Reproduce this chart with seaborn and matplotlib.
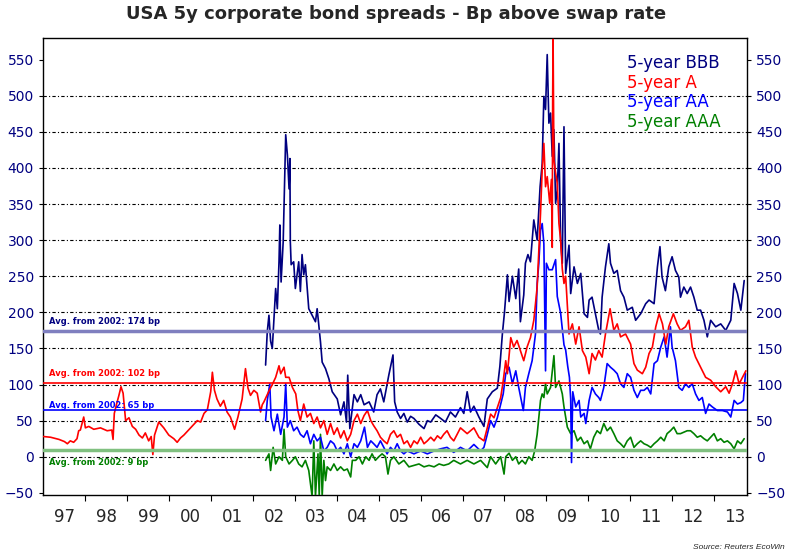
import numpy as np
import pandas as pd
import matplotlib
matplotlib.use('Agg')
import matplotlib.pyplot as plt
import seaborn as sns

# 5-year A (red), from 1997
a_years = [1997.00, 1997.17, 1997.37, 1997.50, 1997.57, 1997.64, 1997.72, 1997.80, 1997.84, 1997.88,
           1997.96, 1998.00, 1998.08, 1998.20, 1998.36, 1998.52, 1998.63, 1998.66, 1998.69, 1998.74,
           1998.80, 1998.85, 1998.90, 1998.96, 1999.04, 1999.12, 1999.20, 1999.28, 1999.36, 1999.43,
           1999.51, 1999.57, 1999.61, 1999.65, 1999.75, 1999.87, 1999.99, 2000.11, 2000.19, 2000.27,
           2000.35, 2000.43, 2000.51, 2000.59, 2000.67, 2000.75, 2000.83, 2000.91, 2000.99, 2001.03,
           2001.08, 2001.14, 2001.22, 2001.30, 2001.38, 2001.46, 2001.56, 2001.64, 2001.74, 2001.82,
           2001.88, 2001.94, 2002.02, 2002.10, 2002.18, 2002.22, 2002.26, 2002.38, 2002.46, 2002.54,
           2002.58, 2002.62, 2002.66, 2002.74, 2002.78, 2002.86, 2002.94, 2003.02, 2003.07, 2003.13,
           2003.21, 2003.29, 2003.37, 2003.45, 2003.53, 2003.61, 2003.69, 2003.77, 2003.85, 2003.93,
           2004.01, 2004.09, 2004.17, 2004.25, 2004.33, 2004.41, 2004.49, 2004.57, 2004.65, 2004.73,
           2004.81, 2004.88, 2004.96, 2005.04, 2005.12, 2005.20, 2005.28, 2005.36, 2005.44, 2005.52,
           2005.60, 2005.68, 2005.76, 2005.84, 2005.92, 2006.00, 2006.08, 2006.16, 2006.24, 2006.32,
           2006.40, 2006.48, 2006.55, 2006.63, 2006.71, 2006.79, 2006.95, 2007.11, 2007.27, 2007.39,
           2007.51, 2007.59, 2007.67, 2007.75, 2007.83, 2007.91, 2007.97, 2008.03, 2008.07, 2008.15,
           2008.22, 2008.30, 2008.38, 2008.46, 2008.54, 2008.62, 2008.70, 2008.78, 2008.86, 2008.90,
           2008.94, 2008.98, 2009.02, 2009.08, 2009.12, 2009.14, 2009.15, 2009.16, 2009.18, 2009.22,
           2009.26, 2009.30, 2009.34, 2009.38, 2009.42, 2009.46, 2009.50, 2009.54, 2009.62, 2009.70,
           2009.78, 2009.86, 2009.94, 2010.02, 2010.09, 2010.17, 2010.25, 2010.33, 2010.41, 2010.52,
           2010.61, 2010.69, 2010.77, 2010.89, 2011.01, 2011.09, 2011.17, 2011.29, 2011.37, 2011.45,
           2011.53, 2011.61, 2011.69, 2011.77, 2011.85, 2011.92, 2012.03, 2012.12, 2012.20, 2012.32,
           2012.40, 2012.48, 2012.56, 2012.68, 2012.80, 2012.92, 2013.04, 2013.16, 2013.28, 2013.36,
           2013.44, 2013.52, 2013.60, 2013.68, 2013.76]
a_bp = [28, 27, 24, 21, 18, 22, 20, 25, 36, 37,
        55, 40, 42, 38, 40, 36, 37, 24, 60, 72,
        85, 97, 88, 50, 54, 42, 38, 30, 26, 33,
        22, 28, 3, 30, 48, 40, 30, 25, 20, 26,
        30, 35, 40, 45, 50, 48, 60, 65, 90, 117,
        92, 80, 70, 78, 62, 55, 38, 55, 80, 122,
        95, 85, 92, 88, 62, 72, 76, 91, 100, 110,
        118, 126, 115, 124, 110, 110, 96, 87, 64, 50,
        73, 55, 60, 46, 55, 40, 50, 31, 46, 31,
        40, 26, 36, 22, 31, 50, 59, 46, 57, 64,
        50, 43, 36, 27, 22, 18, 31, 36, 27, 31,
        18, 22, 13, 22, 18, 27, 18, 22, 27, 22,
        29, 25, 31, 36, 27, 22, 40, 32, 40, 27,
        22, 40, 59, 54, 68, 82, 105, 133, 115, 165,
        152, 161, 147, 133, 152, 165, 189, 235, 337, 397,
        434, 374, 388, 351, 384, 290, 499, 578, 411, 393,
        379, 323, 300, 260, 240, 250, 210, 170, 184, 156,
        180, 147, 138, 115, 143, 134, 147, 138, 170, 205,
        175, 184, 166, 170, 156, 129, 120, 115, 124, 143,
        152, 180, 198, 184, 156, 180, 198, 184, 175, 180,
        189, 152, 138, 124, 110, 106, 97, 90, 97, 88,
        101, 119, 101, 110, 119]

# 5-year BBB (navy), from 2002
bbb_years = [2002.30, 2002.34, 2002.38, 2002.42, 2002.46, 2002.50, 2002.54, 2002.58, 2002.62, 2002.64,
             2002.67, 2002.72, 2002.78, 2002.82, 2002.86, 2002.88, 2002.89, 2002.91, 2002.97, 2003.01,
             2003.05, 2003.09, 2003.13, 2003.17, 2003.21, 2003.25, 2003.33, 2003.41, 2003.49, 2003.53,
             2003.61, 2003.65, 2003.73, 2003.81, 2003.89, 2004.01, 2004.09, 2004.17, 2004.23, 2004.26,
             2004.31, 2004.41, 2004.49, 2004.57, 2004.65, 2004.77, 2004.88, 2004.96, 2005.04, 2005.12,
             2005.24, 2005.34, 2005.38, 2005.44, 2005.52, 2005.60, 2005.68, 2005.76, 2005.84, 2005.96,
             2006.08, 2006.16, 2006.24, 2006.36, 2006.48, 2006.59, 2006.71, 2006.83, 2006.95, 2007.03,
             2007.11, 2007.19, 2007.27, 2007.39, 2007.51, 2007.59, 2007.71, 2007.83, 2007.89, 2007.95,
             2008.00, 2008.07, 2008.11, 2008.19, 2008.27, 2008.34, 2008.38, 2008.46, 2008.50, 2008.56,
             2008.62, 2008.70, 2008.78, 2008.85, 2008.90, 2008.94, 2008.98, 2009.02, 2009.06, 2009.10,
             2009.14, 2009.18, 2009.22, 2009.26, 2009.30, 2009.34, 2009.38, 2009.42, 2009.46, 2009.54,
             2009.58, 2009.66, 2009.74, 2009.82, 2009.90, 2009.98, 2010.02, 2010.09, 2010.17, 2010.25,
             2010.29, 2010.33, 2010.41, 2010.49, 2010.53, 2010.61, 2010.69, 2010.77, 2010.85, 2010.93,
             2011.05, 2011.13, 2011.25, 2011.37, 2011.45, 2011.57, 2011.65, 2011.71, 2011.76, 2011.84,
             2011.92, 2012.00, 2012.08, 2012.16, 2012.20, 2012.28, 2012.36, 2012.44, 2012.52, 2012.60,
             2012.68, 2012.76, 2012.84, 2012.92, 2013.04, 2013.16, 2013.28, 2013.40, 2013.48, 2013.56,
             2013.64, 2013.72]
bbb_bp = [127, 173, 196, 160, 150, 191, 233, 205, 270, 321,
          242, 298, 446, 418, 371, 413, 298, 266, 270, 233,
          252, 270, 229, 280, 252, 266, 205, 196, 187, 205,
          159, 131, 122, 108, 90, 80, 58, 76, 48, 113,
          39, 86, 76, 86, 72, 76, 62, 86, 94, 76,
          113, 141, 76, 62, 53, 60, 48, 56, 53, 45,
          39, 50, 48, 58, 53, 48, 62, 55, 68, 60,
          90, 62, 70, 55, 42, 80, 90, 95, 125, 170,
          200, 252, 215, 250, 219, 260, 187, 224, 268, 280,
          270, 328, 300, 374, 406, 499, 481, 557, 462, 476,
          416, 453, 351, 369, 434, 300, 268, 457, 254, 293,
          226, 263, 240, 254, 198, 193, 217, 221, 198, 175,
          170, 221, 263, 295, 268, 254, 258, 230, 221, 203,
          207, 189, 198, 212, 217, 212, 263, 291, 249, 230,
          263, 277, 258, 249, 221, 235, 226, 235, 221, 203,
          203, 189, 166, 189, 180, 184, 175, 189, 240, 226,
          203, 244]

# 5-year AA (blue), from 2002
aa_years = [2002.30, 2002.34, 2002.40, 2002.43, 2002.50, 2002.58, 2002.66, 2002.74, 2002.78, 2002.82,
            2002.89, 2002.97, 2003.05, 2003.13, 2003.21, 2003.29, 2003.37, 2003.45, 2003.53, 2003.61,
            2003.69, 2003.77, 2003.85, 2003.93, 2004.01, 2004.09, 2004.17, 2004.25, 2004.33, 2004.41,
            2004.49, 2004.57, 2004.66, 2004.73, 2004.81, 2004.88, 2004.96, 2005.04, 2005.12, 2005.20,
            2005.28, 2005.36, 2005.44, 2005.52, 2005.60, 2005.68, 2005.84, 2006.00, 2006.16, 2006.32,
            2006.48, 2006.63, 2006.79, 2006.95, 2007.11, 2007.27, 2007.43, 2007.51, 2007.59, 2007.67,
            2007.75, 2007.83, 2007.91, 2007.97, 2008.03, 2008.11, 2008.19, 2008.27, 2008.34, 2008.45,
            2008.50, 2008.58, 2008.66, 2008.74, 2008.78, 2008.82, 2008.86, 2008.90, 2008.94, 2008.98,
            2009.00, 2009.06, 2009.14, 2009.22, 2009.26, 2009.34, 2009.42, 2009.46, 2009.51, 2009.55,
            2009.58, 2009.60, 2009.63, 2009.70, 2009.78, 2009.82, 2009.90, 2009.94, 2010.02, 2010.09,
            2010.17, 2010.25, 2010.29, 2010.37, 2010.45, 2010.53, 2010.61, 2010.69, 2010.77, 2010.85,
            2010.93, 2011.01, 2011.09, 2011.17, 2011.25, 2011.33, 2011.41, 2011.49, 2011.57, 2011.65,
            2011.73, 2011.81, 2011.88, 2011.96, 2012.00, 2012.08, 2012.16, 2012.24, 2012.32, 2012.40,
            2012.48, 2012.56, 2012.64, 2012.72, 2012.80, 2012.88, 2012.96, 2013.08, 2013.20, 2013.32,
            2013.40, 2013.48, 2013.56, 2013.64, 2013.70, 2013.75]
aa_bp = [50, 78, 101, 55, 36, 59, 31, 55, 101, 41,
         50, 36, 41, 31, 27, 36, 18, 31, 22, 27,
         8, 13, 22, 18, 8, 13, 4, 18, 0, 18,
         13, 22, 41, 13, 22, 18, 13, 22, 13, 4,
         13, 8, 18, 8, 4, 8, 4, 8, 4, 8,
         11, 13, 6, 13, 8, 17, 8, 13, 31, 50,
         41, 54, 73, 87, 115, 124, 101, 119, 96, 64,
         96, 115, 133, 170, 240, 268, 314, 323, 295, 119,
         268, 259, 259, 273, 222, 199, 155, 148, 125, 110,
         80, -8, 90, 69, 78, 55, 60, 46, 78, 96,
         87, 82, 78, 96, 129, 124, 120, 115, 101, 96,
         115, 110, 92, 82, 92, 92, 96, 87, 129, 133,
         152, 166, 138, 180, 152, 133, 96, 92, 101, 96,
         101, 87, 78, 82, 60, 73, 69, 64, 64, 62,
         55, 78, 73, 75, 78, 115]

# 5-year AAA (green), from 2002
aaa_years = [2002.30, 2002.38, 2002.42, 2002.48, 2002.54, 2002.62, 2002.70, 2002.74, 2002.78, 2002.86,
             2002.94, 2003.01, 2003.09, 2003.17, 2003.25, 2003.33, 2003.41, 2003.45, 2003.49, 2003.55,
             2003.58, 2003.61, 2003.65, 2003.69, 2003.73, 2003.77, 2003.85, 2003.93, 2004.01, 2004.09,
             2004.17, 2004.25, 2004.33, 2004.37, 2004.45, 2004.53, 2004.61, 2004.69, 2004.77, 2004.84,
             2004.92, 2005.00, 2005.08, 2005.16, 2005.22, 2005.28, 2005.36, 2005.48, 2005.60, 2005.72,
             2005.84, 2005.96, 2006.08, 2006.20, 2006.32, 2006.44, 2006.55, 2006.67, 2006.79, 2006.95,
             2007.11, 2007.27, 2007.43, 2007.59, 2007.67, 2007.79, 2007.91, 2007.99, 2008.03, 2008.11,
             2008.19, 2008.27, 2008.34, 2008.42, 2008.50, 2008.58, 2008.66, 2008.72, 2008.78, 2008.82,
             2008.86, 2008.90, 2008.94, 2008.98, 2009.02, 2009.10, 2009.18, 2009.22, 2009.30, 2009.38,
             2009.42, 2009.46, 2009.50, 2009.58, 2009.66, 2009.74, 2009.82, 2009.90, 2009.98, 2010.05,
             2010.13, 2010.21, 2010.29, 2010.37, 2010.45, 2010.53, 2010.61, 2010.69, 2010.77, 2010.85,
             2010.93, 2011.01, 2011.09, 2011.17, 2011.25, 2011.33, 2011.41, 2011.49, 2011.57, 2011.65,
             2011.73, 2011.81, 2011.88, 2011.96, 2012.04, 2012.12, 2012.20, 2012.28, 2012.36, 2012.44,
             2012.52, 2012.60, 2012.68, 2012.76, 2012.84, 2012.92, 2013.00, 2013.08, 2013.16, 2013.24,
             2013.32, 2013.40, 2013.48, 2013.56, 2013.64, 2013.72]
aaa_bp = [-5, 4, -19, 13, -10, 0, -5, 38, 0, -10,
          -5, 0, -10, -14, -5, -19, -55, 22, -55, 4,
          -55, 31, -55, -5, -33, -14, -19, -10, -19, -14,
          -19, -17, -28, -5, -5, 0, -10, 0, -5, 4,
          -5, 0, 4, 0, -24, -5, 0, -10, -5, -14,
          -12, -10, -14, -12, -14, -10, -12, -10, -5, -10,
          -5, -10, -5, -15, 0, -10, 0, -24, 0, 5,
          -5, 0, -10, -5, -10, 0, -5, 8, 31, 54,
          78, 87, 82, 101, 87, 96, 140, 96, 105, 87,
          69, 55, 41, 32, 36, 22, 27, 18, 22, 11,
          27, 36, 32, 46, 36, 41, 32, 22, 18, 13,
          22, 27, 13, 18, 22, 18, 16, 13, 18, 22,
          27, 22, 32, 36, 41, 32, 32, 34, 36, 36,
          32, 27, 29, 25, 22, 27, 32, 22, 25, 20,
          22, 18, 11, 22, 18, 25]

series_names = ['5-year BBB', '5-year A', '5-year AA', '5-year AAA']
series_colors = ['#000080', '#ff0000', '#0000ff', '#008000']
avg_from_2002 = [174, 102, 65, 9]
avg_line_colors = ['#7f7fbf', '#ff0000', '#0000ff', '#80c080']
year_labels = ['97', '98', '99', '00', '01', '02', '03', '04', '05', '06',
               '07', '08', '09', '10', '11', '12', '13']

df = pd.concat([
    pd.DataFrame({'year': bbb_years, 'bp': bbb_bp, 'series': '5-year BBB'}),
    pd.DataFrame({'year': a_years, 'bp': a_bp, 'series': '5-year A'}),
    pd.DataFrame({'year': aa_years, 'bp': aa_bp, 'series': '5-year AA'}),
    pd.DataFrame({'year': aaa_years, 'bp': aaa_bp, 'series': '5-year AAA'}),
], ignore_index=True)

sns.set_style('white')
plt.rcParams['font.family'] = ['DejaVu Sans']

fig = plt.figure(figsize=(7.92, 5.56), dpi=100)
ax = fig.add_axes([0.0549, 0.1097, 0.8879, 0.822])

# dotted grid, 0..500
for v in range(0, 501, 50):
    ax.axhline(v, color='black', lw=0.8, ls=(0, (3, 2, 1, 2)), zorder=1)

palette = dict(zip(series_names, series_colors))
sns.lineplot(data=df, x='year', y='bp', hue='series', palette=palette,
             hue_order=['5-year AAA', '5-year AA', '5-year BBB', '5-year A'],
             estimator=None, sort=False, legend=False, lw=1.2, ax=ax, zorder=3)

# average lines since 2002
label_offsets = [14, 13, 6, -17]
for avg, lc, tc, off in zip(avg_from_2002, avg_line_colors, series_colors, label_offsets):
    thick = lc in ('#7f7fbf', '#80c080')
    ax.axhline(avg, color=lc, lw=2.5 if thick else 1.2, zorder=4)
    ax.text(0.008, avg + off, f'Avg. from 2002: {avg} bp', color=tc, fontsize=6,
            fontweight='bold', va='center', ha='left', transform=ax.get_yaxis_transform(), zorder=5)

# colored text legend
for i, (name, c) in enumerate(zip(series_names, series_colors)):
    ax.text(0.83, 0.945 - i * 0.043, name, color=c, fontsize=12, va='center', ha='left',
            transform=ax.transAxes)

ax.set_xlim(1997, 2013.78)
ax.set_ylim(-53, 580)
ax.set_yticks(range(-50, 551, 50))
ax.tick_params(axis='y', labelleft=True, labelright=True, left=True, right=True,
               labelsize=10, labelcolor='#000080', length=3, width=0.8, color='black', pad=4)

ax.set_xticks([y + 0.5 for y in range(1997, 2014)])
ax.set_xticklabels(year_labels)
ax.set_xticks(range(1998, 2014), minor=True)
ax.tick_params(axis='x', which='major', length=0, labelsize=12, pad=9)
ax.tick_params(axis='x', which='minor', length=4, width=0.8, color='black', bottom=True)
ax.set_xlabel('')
ax.set_ylabel('')
for s in ax.spines.values():
    s.set_color('black')
    s.set_linewidth(1.0)

fig.text(0.5, 0.975, 'USA 5y corporate bond spreads - Bp above swap rate',
         ha='center', va='center', fontsize=13, fontweight='bold')
fig.text(0.991, 0.016, 'Source: Reuters EcoWin', ha='right', va='center', fontsize=6,
         style='italic', family='Liberation Sans')

fig.savefig('out.png', dpi=100)
